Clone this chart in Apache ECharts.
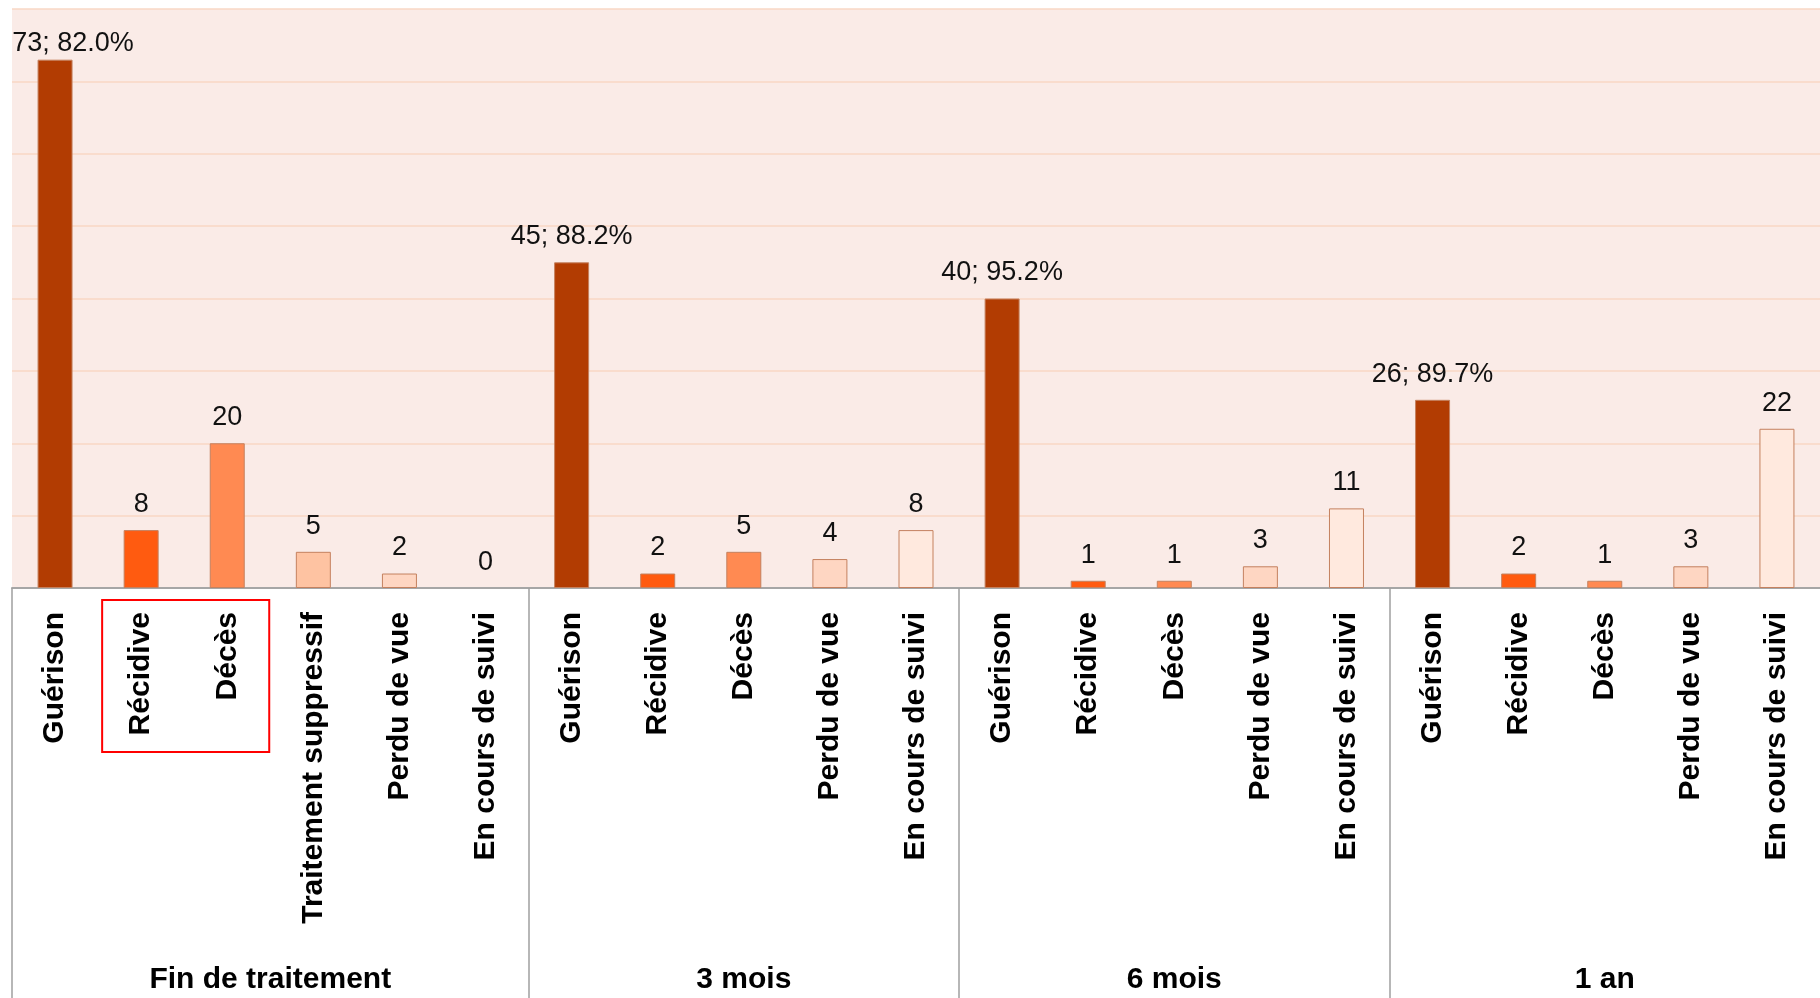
<!DOCTYPE html>
<html>
<head>
<meta charset="utf-8">
<script src="https://cdn.jsdelivr.net/npm/echarts@6/dist/echarts.min.js"></script>
<style>
  html, body { margin: 0; padding: 0; background: #fff; }
  #chart { width: 1820px; height: 998px; }
</style>
</head>
<body>
<div id="chart"></div>
<script>
// groups along the bottom and their outcomes
const groupNames = ['Fin de traitement', '3 mois', '6 mois', '1 an']
const finOutcomes = ['Guérison', 'Récidive', 'Décès', 'Traitement suppressif', 'Perdu de vue', 'En cours de suivi']
const followOutcomes = ['Guérison', 'Récidive', 'Décès', 'Perdu de vue', 'En cours de suivi']

// patient counts per group
const finValues = [73, 8, 20, 5, 2, 0]
const mois3Values = [45, 2, 5, 4, 8]
const mois6Values = [40, 1, 1, 3, 11]
const an1Values = [26, 2, 1, 3, 22]

// percentage shown next to the Guérison count in each group
const guerisonPct = [82.0, 88.2, 95.2, 89.7]

const yTicks = [0, 10, 20, 30, 40, 50, 60, 70, 80]

const outcomeColors = {
  'Guérison': '#b23c02',
  'Récidive': '#ff5b10',
  'Décès': '#ff8a52',
  'Traitement suppressif': '#fec3a2',
  'Perdu de vue': '#fed6c2',
  'En cours de suivi': '#ffe9de'
}

const groupOutcomes = [finOutcomes, followOutcomes, followOutcomes, followOutcomes]
const groupValues = [finValues, mois3Values, mois6Values, an1Values]

// flatten into one category axis
const categories = []
const barData = []
groupOutcomes.forEach((outs, g) => {
  outs.forEach((name, i) => {
    categories.push(name)
    const v = groupValues[g][i]
    const item = {
      value: v,
      pct: name === 'Guérison' ? guerisonPct[g] : null,
      itemStyle: { color: outcomeColors[name], borderWidth: v === 0 ? 0 : 1 }
    }
    // first label is pushed inside the plot, like in the original
    if (g === 0 && i === 0) item.label = { distance: 3, offset: [18, 0] }
    barData.push(item)
  })
})

// group boundaries / centres in category-index units
const bounds = [-0.5]
const centers = []
groupOutcomes.forEach(outs => {
  const start = bounds[bounds.length - 1]
  bounds.push(start + outs.length)
  centers.push(start + outs.length / 2)
})

const numFont = "'Liberation Sans', Arial, sans-serif"

const chart = echarts.init(document.getElementById('chart'))
chart.setOption({
  animation: false,
  grid: {
    left: 12, right: -8, top: 9, bottom: 410,
    show: true, backgroundColor: '#faebe7', borderWidth: 0
  },
  xAxis: [
    {
      type: 'category',
      data: categories,
      axisLine: { lineStyle: { color: '#a6a6a6', width: 2 } },
      axisTick: { show: false },
      axisLabel: {
        interval: 0,
        rotate: 90,
        margin: 24,
        color: '#000',
        fontFamily: numFont,
        fontWeight: 'bold',
        fontSize: 30
      }
    },
    {
      type: 'value',
      position: 'bottom',
      offset: 0,
      min: bounds[0],
      max: bounds[bounds.length - 1],
      splitLine: { show: false },
      axisLine: { show: false },
      axisTick: {
        show: true,
        customValues: bounds.slice(0, -1),
        length: 420,
        lineStyle: { color: '#a0a0a0', width: 1.5 }
      },
      axisLabel: {
        customValues: centers,
        margin: 377,
        color: '#000',
        fontFamily: numFont,
        fontWeight: 'bold',
        fontSize: 30,
        formatter: v => groupNames[centers.indexOf(v)] || ''
      }
    }
  ],
  yAxis: {
    type: 'value',
    min: yTicks[0],
    max: yTicks[yTicks.length - 1],
    interval: yTicks[1] - yTicks[0],
    axisLine: { show: false },
    axisTick: { show: false },
    axisLabel: { show: false },
    splitLine: { lineStyle: { color: '#f9d7c5', width: 1.5 } }
  },
  series: [
    {
      type: 'bar',
      xAxisIndex: 0,
      barWidth: 35,
      data: barData,
      itemStyle: { borderColor: '#c4815f', borderWidth: 1 },
      label: {
        show: true,
        position: 'top',
        distance: 12,
        color: '#111',
        fontFamily: numFont,
        fontSize: 27,
        formatter: p => p.data.pct != null
          ? p.value + '; ' + p.data.pct.toFixed(1) + '%'
          : String(p.value)
      }
    }
  ]
})

// red box around the Récidive / Décès labels of the first group
const x1 = chart.convertToPixel({ xAxisIndex: 0 }, 1)
const x2 = chart.convertToPixel({ xAxisIndex: 0 }, 2)
const yBase = chart.convertToPixel({ yAxisIndex: 0 }, 0)
chart.setOption({
  graphic: [{
    type: 'rect',
    shape: { x: x1 - 39, y: yBase + 12, width: (x2 - x1) + 81, height: 152 },
    style: { fill: 'none', stroke: '#ff0000', lineWidth: 2 },
    z: 100
  }]
})
</script>
</body>
</html>
